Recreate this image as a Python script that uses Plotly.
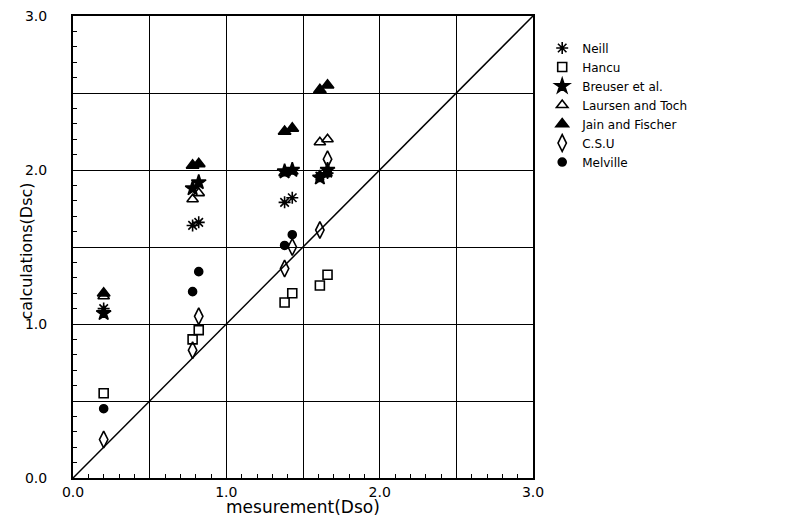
import plotly.graph_objects as go

# measurement values (Dso)
meas = [0.2, 0.78, 0.82, 1.38, 1.43, 1.61, 1.66]

neill    = [1.10, 1.64, 1.66, 1.79, 1.82, 1.96, 1.98]
hancu    = [0.55, 0.90, 0.96, 1.14, 1.20, 1.25, 1.32]
breuser  = [1.07, 1.88, 1.92, 1.99, 2.00, 1.95, 2.00]
laursen  = [1.18, 1.81, 1.85, 1.98, 1.99, 2.18, 2.20]
jain     = [1.20, 2.03, 2.04, 2.25, 2.27, 2.52, 2.55]
csu      = [0.25, 0.83, 1.05, 1.36, 1.50, 1.61, 2.07]
melville = [0.45, 1.21, 1.34, 1.51, 1.58, 1.96, 1.98]

series = [
    ("Neill", neill, "asterisk-open", 10),
    ("Hancu", hancu, "square-open", 9),
    ("Breuser et al.", breuser, "star", 11),
    ("Laursen and Toch", laursen, "triangle-up-open", 10),
    ("Jain and Fischer", jain, "triangle-up", 11),
    ("C.S.U", csu, "diamond-tall-open", 12),
    ("Melville", melville, "circle", 8),
]

tick_vals = [0, 0.5, 1.0, 1.5, 2.0, 2.5, 3.0]
tick_text = ["0.0", "", "1.0", "", "2.0", "", "3.0"]

FONT = "DejaVu Sans"

fig = go.Figure()

fig.add_trace(go.Scatter(x=[0, 3], y=[0, 3], mode="lines",
                         line=dict(color="black", width=1.5),
                         showlegend=False, hoverinfo="skip"))

for name, vals, sym, size in series:
    fig.add_trace(go.Scatter(
        x=meas, y=vals, mode="markers", name=name,
        marker=dict(symbol=sym, size=size, color="black",
                    line=dict(color="black", width=1.6)),
    ))

axis_common = dict(
    range=[0, 3], tickvals=tick_vals, ticktext=tick_text,
    showgrid=True, gridcolor="black", gridwidth=1,
    zeroline=False, showline=True, linecolor="black", linewidth=2,
    mirror=True, ticks="inside", ticklen=7, tickcolor="black",
    minor=dict(dtick=0.1, ticks="inside", ticklen=4, tickcolor="black", showgrid=False),
    tickfont=dict(family=FONT, size=14, color="black"),
    automargin=False, ticklabeloverflow="allow",
)

fig.update_layout(
    width=780, height=516,
    margin=dict(l=65, r=255, t=8, b=46),
    paper_bgcolor="white", plot_bgcolor="white",
    xaxis=dict(**axis_common),
    yaxis=dict(**axis_common, ticklabelstandoff=21),
    legend=dict(x=1.02, y=0.962, xanchor="left", yanchor="top",
                font=dict(family=FONT, size=12, color="black"),
                tracegroupgap=0, itemwidth=30, bgcolor="rgba(0,0,0,0)"),
    showlegend=True,
    annotations=[
        dict(text="mesurement(Dso)", xref="paper", yref="paper",
             x=0.5, y=-0.063, xanchor="center", yanchor="middle",
             showarrow=False, font=dict(family=FONT, size=17, color="black")),
        dict(text="calculations(Dsc)", xref="paper", yref="paper",
             x=-0.1, y=0.49, xanchor="center", yanchor="middle", textangle=-90,
             showarrow=False, font=dict(family=FONT, size=16, color="black")),
    ],
)

fig.write_html("out.html")
